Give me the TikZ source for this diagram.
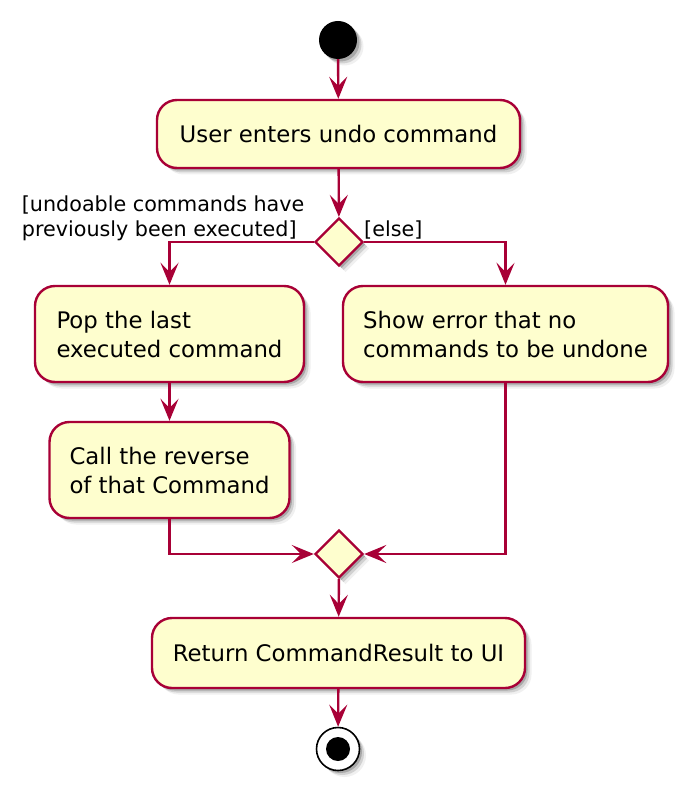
\documentclass[tikz,border=0pt]{standalone}
\usepackage{fontspec}
\setmainfont{DejaVu Sans}
\usetikzlibrary{shapes.geometric,shadows,arrows.meta}
\definecolor{umlred}{HTML}{A80036}
\definecolor{umlfill}{HTML}{FEFECE}
\begin{document}
\begin{tikzpicture}[x=1pt,y=-1pt,
  shd/.style={drop shadow={shadow xshift=2.5pt,shadow yshift=-2.5pt,fill=black,opacity=0.2},
              drop shadow={shadow xshift=4.5pt,shadow yshift=-4.5pt,fill=black,opacity=0.13},
              drop shadow={shadow xshift=6.5pt,shadow yshift=-6.5pt,fill=black,opacity=0.06}},
  actbox/.style={shd,draw=umlred,fill=umlfill,line width=2.4pt,rounded corners=20pt,
                 font=\fontsize{22.8}{29}\selectfont,inner sep=0pt},
  actone/.style={actbox,align=center,minimum width=#1,minimum height=68pt},
  acttwo/.style={actbox,align=left,minimum width=#1,minimum height=96pt},
  decbox/.style={shd,diamond,draw=umlred,fill=umlfill,line width=2.4pt,inner sep=0pt,minimum size=48pt},
  flow/.style={draw=umlred,line width=2.4pt,-{Stealth[length=22pt,width=18pt,inset=9pt]}},
  lab/.style={font=\fontsize{20.7}{25}\selectfont,inner sep=0pt}]
\useasboundingbox (0,0) rectangle (691,791);

\node[shd,circle,fill=black,inner sep=0pt,minimum size=38pt] (start) at (338,40) {};
\node[actone=363pt] (act1) at (338.5,134) {User enters undo command};
\node[decbox] (dec1) at (339,242) {};
\node[acttwo=269pt] (pop) at (169.5,334) {Pop the last\\executed command};
\node[acttwo=325pt] (show) at (505.5,334) {Show error that no\\commands to be undone};
\node[acttwo=240pt] (call) at (169.5,470) {Call the reverse\\of that Command};
\node[decbox] (dec2) at (339,554) {};
\node[actone=373pt,minimum height=70pt] (ret) at (338.5,653) {Return CommandResult to UI};
\node[shd,circle,draw=black,fill=white,line width=1.6pt,inner sep=0pt,minimum size=43pt] (end) at (338,749) {};
\node[circle,fill=black,inner sep=0pt,minimum size=24pt] (endin) at (end.center) {};

\node[lab,anchor=base west,align=left] (l1) at (21.7,237) {[undoable commands have\\previously been executed]};
\node[lab,anchor=base west] (l2) at (364,237) {[else]};

\draw[flow] (start) -- (act1);
\draw[flow] (act1) -- (dec1);
\draw[flow] (dec1.west) -| (pop.north);
\draw[flow] (dec1.east) -| (show.north);
\draw[flow] (pop) -- (call);
\draw[flow] (call.south) |- (dec2.west);
\draw[flow] (show.south) |- (dec2.east);
\draw[flow] (dec2) -- (ret);
\draw[flow] (ret) -- (end);
\end{tikzpicture}
\end{document}
